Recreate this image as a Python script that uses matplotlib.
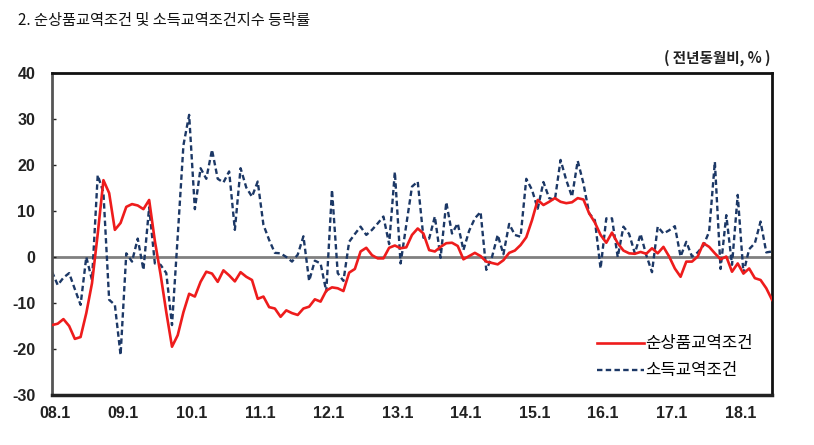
import numpy as np
import matplotlib
matplotlib.use('Agg')
import matplotlib.pyplot as plt

plt.rcParams['font.family'] = ['Noto Sans CJK KR', 'DejaVu Sans']

# monthly, 2008.1 ~ 2018.7 (yoy, %)
net_barter = [
    -14.8, -14.5, -13.5, -15.0, -17.8, -17.4, -12.2, -5.7, 5.0, 16.7, 13.9, 5.9,
    7.4, 10.9, 11.5, 11.2, 10.4, 12.4, 3.5, -3.8, -12.0, -19.5, -17.0, -12.0,
    -8.0, -8.6, -5.4, -3.2, -3.6, -5.4, -2.9, -4.0, -5.3, -3.3, -4.3, -5.0,
    -9.1, -8.6, -10.9, -11.2, -13.0, -11.6, -12.2, -12.6, -11.2, -10.8, -9.2, -9.7,
    -7.3, -6.6, -6.8, -7.4, -3.4, -2.6, 1.2, 2.0, 0.4, -0.3, -0.3, 2.0,
    2.5, 1.9, 2.1, 4.8, 6.2, 5.1, 1.5, 1.2, 2.2, 3.0, 3.1, 2.4,
    -0.5, 0.2, 0.9, 0.2, -1.0, -1.3, -1.6, -0.7, 0.9, 1.4, 2.6, 4.3,
    8.0, 12.4, 11.3, 12.0, 12.8, 12.0, 11.7, 11.9, 12.8, 12.5, 9.5, 7.5,
    4.8, 3.1, 5.3, 3.0, 1.4, 0.8, 0.7, 1.1, 0.7, 1.9, 0.8, 2.2,
    0.1, -2.5, -4.3, -1.0, -1.0, 0.1, 3.0, 2.2, 0.8, -0.5, 0.1, -3.2,
    -1.4, -3.6, -2.5, -4.6, -5.0, -6.8, -9.3,
]
income = [
    -3.2, -6.1, -4.5, -3.5, -7.0, -10.4, 0.0, -5.0, 17.8, 14.0, -9.3, -10.4,
    -21.3, 0.8, -1.0, 4.0, -2.8, 10.8, -1.4, -1.7, -3.5, -14.8, 4.5, 24.3,
    30.9, 10.4, 19.3, 17.0, 23.3, 17.0, 16.2, 18.6, 5.9, 19.3, 15.1, 13.1,
    16.4, 7.0, 3.7, 0.9, 0.8, 0.0, -1.0, 0.5, 4.5, -5.2, -0.8, -1.4,
    -7.5, 14.6, -3.5, -5.2, 3.3, 5.0, 6.6, 4.8, 5.9, 7.3, 8.8, 2.8,
    18.5, -1.4, 7.0, 15.3, 16.4, 4.2, 4.0, 8.8, -0.2, 11.9, 5.1, 7.3,
    1.5, 5.7, 8.4, 9.8, -2.8, 0.0, 4.8, 0.6, 7.2, 4.8, 4.4, 17.0,
    14.6, 10.5, 16.3, 12.8, 12.4, 21.1, 16.7, 13.1, 20.9, 16.0, 9.5, 8.0,
    -2.5, 8.4, 8.4, 0.0, 6.6, 5.0, 0.8, 5.0, 0.4, -3.3, 6.6, 5.1,
    5.8, 6.7, 0.1, 3.3, 0.1, 1.0, 2.5, 5.5, 20.7, -2.6, 9.1, -1.7,
    13.5, -3.5, 1.7, 3.0, 7.7, 1.0, 1.2,
]
year_labels = ['08.1', '09.1', '10.1', '11.1', '12.1', '13.1', '14.1',
               '15.1', '16.1', '17.1', '18.1']
yticks = [40, 30, 20, 10, 0, -10, -20, -30]

x = np.arange(len(net_barter))

fig = plt.figure(figsize=(8.14, 4.45), dpi=100)
ax = fig.add_axes([52/814, 1-395/445, 720/814, 322/445])

ax.axhline(0, color='#808080', lw=2, zorder=1)
ax.plot(x, income, color='#1c3866', lw=1.7, linestyle=(0, (2.3, 1.4)),
        label='소득교역조건', zorder=2)
ax.plot(x, net_barter, color='#ee1c1c', lw=1.9, label='순상품교역조건', zorder=3)

ax.set_xlim(0, len(net_barter) - 1)
ax.set_ylim(-30, 40)
ax.set_yticks(yticks)
ax.set_yticklabels([str(v) for v in yticks], fontfamily='Liberation Sans',
                   fontweight='bold', fontsize=11.5)
ax.set_xticks(np.arange(len(year_labels)) * 12 + 0.45)
ax.set_xticklabels(year_labels, fontfamily='Liberation Sans',
                   fontweight='bold', fontsize=11.5)
ax.tick_params(axis='y', direction='in', length=3, width=1, pad=12, colors='#222222')
ax.tick_params(axis='x', length=0, pad=8, colors='#222222')

for side in ['top', 'right']:
    ax.spines[side].set_linewidth(2)
    ax.spines[side].set_color('#111111')
ax.spines['left'].set_linewidth(2)
ax.spines['left'].set_color('#555555')
ax.spines['bottom'].set_linewidth(2.5)
ax.spines['bottom'].set_color('#222222')

handles, labels = ax.get_legend_handles_labels()
leg = ax.legend(handles[::-1], labels[::-1], loc='upper left',
                bbox_to_anchor=(0.757, 0.185), frameon=False, borderpad=0,
                borderaxespad=0, handlelength=2.8, handletextpad=0.1,
                labelspacing=0.6, prop={'family': ['Noto Sans CJK KR', 'DejaVu Sans'], 'size': 12})

fig.text(18/814, 1-20/445, '2. 순상품교역조건 및 소득교역조건지수 등락률', fontsize=11,
         ha='left', va='center', color='#111111')
fig.text(770/814, 1-58/445, '( 전년동월비, % )', fontsize=10.5, fontweight='bold',
         ha='right', va='center', color='#222222')

fig.savefig('out.png', dpi=100)
